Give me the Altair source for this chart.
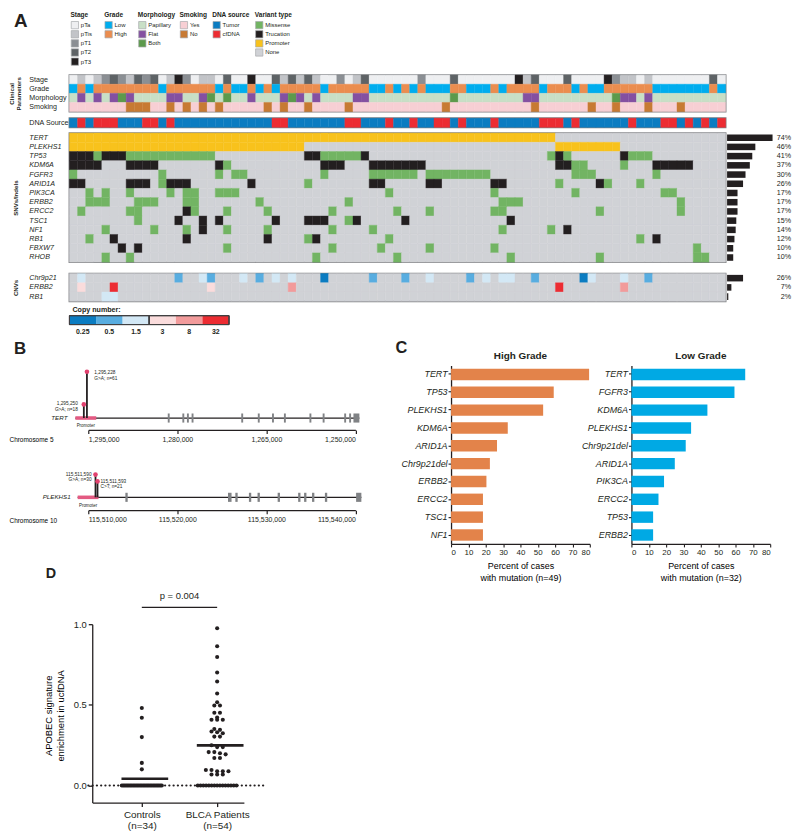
import altair as alt
import pandas as pd

FONT = "Liberation Sans"
INK = "#231f20"
EDGE = "#808285"
PINK = "#e2416f"
PROMO = "#e35a82"

# ======================= Panel A data =======================
n_patients = 81
patients = list(range(n_patients))

stage_levels = ["pTa", "pTis", "pT1", "pT2", "pT3"]
stage_colors = ["#eeeff1", "#c2c4c8", "#8b8f94", "#5e6366", "#231f20"]
stage = ["pTa", "pTis", "pTa", "pTis", "pT1", "pT2", "pT1", "pTis", "pT2", "pT1",
         "pT2", "pTa", "pTis", "pT3", "pT1", "pTa", "pTis", "pTis", "pTa", "pT2",
         "pTa", "pTa", "pT3", "pTa", "pTa", "pT2", "pTis", "pT2", "pTis", "pT2",
         "pTis", "pTa", "pTa", "pT1", "pTa", "pTis", "pT2", "pTa", "pTa", "pTa",
         "pTa", "pTa", "pTa", "pT1", "pTa", "pTa", "pTa", "pT2", "pTa", "pTa",
         "pTa", "pTa", "pTa", "pTa", "pTa", "pT3", "pTis", "pT2", "pTa", "pTa",
         "pTa", "pT2", "pTa", "pTa", "pTa", "pTa", "pT3", "pT1", "pTis", "pTis",
         "pTa", "pTis", "pTa", "pTa", "pTa", "pTa", "pTa", "pTa", "pTa", "pT2",
         "pTa"]

grade_levels = ["Low", "High"]
grade_colors = ["#00adee", "#eb8d4f"]
high_grade_cols = [1, 3, 4, 5, 6, 7, 8, 9, 10, 12, 13, 14, 15, 16, 17, 19, 22, 24, 26, 27,
                   28, 29, 30, 32, 33, 34, 35, 36, 39, 41, 43, 47, 48, 52, 54, 55, 56, 57,
                   59, 60, 61, 63, 66, 67, 68, 69, 70, 71, 79]

morph_levels = ["Papillary", "Flat", "Both"]
morph_colors = ["#c8dfc6", "#8450a1", "#5c9a4c"]
flat_cols = [1, 3, 5, 7, 12, 13, 16, 22, 26, 28, 30, 35, 36, 56, 57, 68, 69, 71]
both_cols = [6, 17, 19, 27, 47, 67]

smoking_levels = ["Yes", "No"]
smoking_colors = ["#f7cfd4", "#c77a33"]
non_smoker_cols = [7, 8, 9, 12, 14, 16, 18, 24, 26, 29, 34, 46, 57, 64, 67, 71, 75]

dna_levels = ["Tumor", "cfDNA"]
dna_colors = ["#0b7cc1", "#ec2c32"]
cfdna_cols = [1, 3, 4, 5, 9, 10, 12, 25, 26, 34, 35, 39, 42, 45, 46, 48, 52, 58, 59, 60,
              62, 69, 73, 74, 76, 78, 80]

variant_levels = ["Missense", "Trucation", "Promoter", "None"]
variant_colors = ["#72b463", "#231f20", "#f8c21c", "#d0d2d6"]

snv_genes = ["TERT", "PLEKHS1", "TP53", "KDM6A", "FGFR3", "ARID1A", "PIK3CA",
             "ERBB2", "ERCC2", "TSC1", "NF1", "RB1", "FBXW7", "RHOB"]
snv_pct = [74, 46, 41, 37, 30, 26, 17, 17, 17, 15, 14, 12, 10, 10]

promoter_cols = {
    "TERT": list(range(0, 60)),
    "PLEKHS1": list(range(0, 29)) + list(range(60, 68)),
}
truncation_cols = {
    "TP53": [0, 1, 2, 4, 5, 6, 29, 30, 36, 60, 68],
    "KDM6A": [0, 1, 2, 3, 7, 8, 9, 10, 18, 31, 32, 33, 37, 38, 39, 40, 41, 42, 43, 60, 61,
              72, 73, 74, 75, 76],
    "ARID1A": [0, 1, 7, 8, 9, 12, 13, 14, 22, 37, 38, 44, 45, 52, 53, 65],
    "ERCC2": [14],
    "TSC1": [13, 16, 18, 25, 29, 30, 31, 35, 41, 54],
    "NF1": [16, 61],
    "RB1": [5, 14, 24, 30, 72],
    "FBXW7": [6, 8],
}
missense_cols = {
    "TP53": [3, 7, 8, 9, 10, 11, 12, 13, 14, 15, 16, 17, 31, 32, 33, 34, 35, 59, 61, 69, 70, 71],
    "KDM6A": [19, 62, 63, 68],
    "FGFR3": [0, 11, 18, 20, 21, 31, 37, 38, 39, 40, 41, 42, 44, 45, 46, 47, 48, 49, 50, 51,
              62, 63, 64, 72],
    "ARID1A": [11, 29, 60, 66, 70],
    "PIK3CA": [2, 4, 7, 12, 14, 15, 18, 19, 20, 39, 52, 62, 73, 74],
    "ERBB2": [2, 3, 4, 8, 9, 10, 14, 15, 23, 34, 53, 54, 55, 75],
    "ERCC2": [1, 7, 8, 15, 19, 24, 32, 40, 44, 52, 53, 65, 75],
    "TSC1": [8, 34],
    "NF1": [4, 10, 14, 19, 24, 32, 37, 53, 59],
    "RB1": [2, 29, 39, 70],
    "FBXW7": [19, 32, 38, 44, 52, 77],
    "RHOB": [4, 7, 30, 40, 54, 65, 77, 78],
}

cnv_genes = ["Chr9p21", "ERBB2", "RB1"]
cnv_pct = [26, 7, 2]
cnv_calls = {
    "Chr9p21": {1: "1.5", 13: "0.5", 16: "1.5", 17: "0.5", 21: "1.5", 23: "0.5", 25: "1.5",
                27: "1.5", 31: "0.25", 37: "0.5", 41: "0.5", 44: "1.5", 49: "0.5", 51: "1.5",
                53: "1.5", 54: "1.5", 57: "0.5", 63: "0.25", 64: "1.5", 68: "1.5", 71: "0.5"},
    "ERBB2": {1: "3", 5: "32", 17: "3", 27: "8", 60: "32", 68: "8"},
    "RB1": {4: "1.5", 5: "1.5"},
}
cn_levels = ["0.25", "0.5", "1.5", "3", "8", "32"]
cn_colors = ["#0b7cc1", "#58ade0", "#d3e8f5", "#fadcdc", "#f29b9b", "#ec2c32"]
cn_groups = ["loss", "loss", "loss", "gain", "gain", "gain"]

# ======================= Panel B data =======================
tert_axis_ticks = [1295000, 1280000, 1265000, 1250000]
tert_promoter = [1297174, 1293662]
tert_span = [1297174, 1249330]
tert_exon_start = [1281610, 1279150, 1278380, 1277595, 1269230, 1266440, 1264045, 1262040,
                   1257740, 1255515, 1251885, 1251050, 1250330]
tert_exon_end = [1281290, 1278830, 1278060, 1277275, 1268910, 1266120, 1263725, 1261720,
                 1257420, 1255195, 1251565, 1250730, 1249330]
tert_mut_pos = [1295228, 1295250]
tert_mut_n = [61, 18]
tert_mut_change = ["G>A", "G>A"]

plek_axis_ticks = [115510000, 115520000, 115530000, 115540000]
plek_promoter = [115508809, 115511146]
plek_span = [115508809, 115540670]
plek_exon_start = [115514165, 115525690, 115526516, 115528041, 115529009, 115531268,
                   115533571, 115534239, 115535129, 115536575, 115540080]
plek_exon_end = [115514425, 115526090, 115526776, 115528301, 115529269, 115531528,
                 115533831, 115534499, 115535389, 115536835, 115540670]
plek_mut_pos = [115511590, 115511593]
plek_mut_n = [30, 21]
plek_mut_change = ["G>A", "C>T"]

# ======================= Panel C data =======================
high_genes = ["TERT", "TP53", "PLEKHS1", "KDM6A", "ARID1A", "Chr9p21del", "ERBB2",
              "ERCC2", "TSC1", "NF1"]
high_pct = [79.6, 59.2, 53.1, 32.7, 26.5, 22.4, 20.4, 18.4, 18.4, 18.4]
high_n = 49
low_genes = ["TERT", "FGFR3", "KDM6A", "PLEKHS1", "Chr9p21del", "ARID1A", "PIK3CA",
             "ERCC2", "TP53", "ERBB2"]
low_pct = [65.6, 59.4, 43.8, 34.4, 31.3, 25.0, 18.8, 15.6, 12.5, 12.5]
low_n = 32

# ======================= Panel D data =======================
d_groups = ["Controls", "BLCA Patients"]
d_group_n = [34, 54]
controls_vals = [0.48, 0.42, 0.30, 0.14, 0.10] + [0.0] * 29
blca_vals = [0.975, 0.863, 0.797, 0.701, 0.645, 0.570, 0.516, 0.496, 0.496, 0.451,
             0.451, 0.422, 0.408, 0.408, 0.408, 0.350, 0.345, 0.335, 0.330, 0.324,
             0.303, 0.303, 0.250, 0.238, 0.238, 0.207, 0.207, 0.200, 0.193, 0.170,
             0.170, 0.096, 0.096, 0.088, 0.088, 0.088, 0.068, 0.068, 0.068] + [0.0] * 15
p_value = "0.004"

# ======================= helpers =======================
def indep(c):
    return c.resolve_scale(color="independent", stroke="independent", fill="independent")


def letter_layer(ch, x, y, size):
    return alt.Chart(pd.DataFrame({"t": [ch]})).mark_text(
        align="left", baseline="alphabetic", fontSize=size, fontWeight="bold", color=INK
    ).encode(text="t:N", x=alt.value(x), y=alt.value(y))


def letter_chart(ch, x, y, size, width):
    return letter_layer(ch, x, y, size).properties(width=width, height=1)


def row_axis(height, title=None, italic=False, title_x=-61):
    args = dict(labelAlign="left", labelPadding=41, ticks=False, tickSize=0, domain=False,
                labelFontSize=7.2, labelColor=INK, labelBaseline="middle", labelLimit=0,
                labelFontStyle="italic" if italic else "normal")
    if title is not None:
        args.update(title=title, titleX=title_x, titleY=height / 2, titleAngle=270,
                    titleAlign="center", titleBaseline="top", titleFontSize=6.2,
                    titleFontWeight="bold", titleLineHeight=7, titleColor=INK)
    else:
        args["title"] = None
    return alt.Axis(**args)


band0 = alt.Scale(paddingInner=0, paddingOuter=0)
GRID_W = 662
ROW_H = 9.2

# ---------- legends ----------
def legend_block(title, items, colors, width):
    df = pd.DataFrame({"item": items, "swatch": colors})
    y = alt.Y("item:N", sort=items, axis=None, scale=band0)
    sw = alt.Chart(df).mark_square(size=54, stroke="#a7a9ac", strokeWidth=0.7, opacity=1).encode(
        x=alt.value(4.5), y=y, fill=alt.Fill("swatch:N", scale=None))
    tx = alt.Chart(df).mark_text(align="left", baseline="middle", fontSize=6, color=INK).encode(
        x=alt.value(10.5), y=y, text="item:N")
    return alt.layer(sw, tx).properties(
        width=width, height=ROW_H * len(items),
        title=alt.TitleParams(title, anchor="start", fontSize=6.6, fontWeight="bold",
                              offset=1.5, color=INK, frame="group"))


legend_row = indep(alt.hconcat(
    letter_chart("A", -56, 6.5, 19, 1),
    indep(alt.hconcat(
        legend_block("Stage", stage_levels, stage_colors, 33),
        legend_block("Grade", grade_levels, grade_colors, 33),
        legend_block("Morphology", morph_levels, morph_colors, 41),
        legend_block("Smoking", smoking_levels, smoking_colors, 32),
        legend_block("DNA source", dna_levels, dna_colors, 42),
        legend_block("Variant type", variant_levels, variant_colors, 50),
        spacing=0,
    )),
    spacing=-1,
))

# ---------- clinical ----------
grade = ["High" if c in high_grade_cols else "Low" for c in patients]
morph = ["Flat" if c in flat_cols else ("Both" if c in both_cols else "Papillary") for c in patients]
smoking = ["No" if c in non_smoker_cols else "Yes" for c in patients]
dna = ["cfDNA" if c in cfdna_cols else "Tumor" for c in patients]

clin_rows = ["Stage", "Grade", "Morphology", "Smoking"]
clin_df = pd.DataFrame({
    "col": patients * 4,
    "row": [r for r in clin_rows for _ in patients],
    "value": stage + grade + morph + smoking,
})
clin_scale = alt.Scale(domain=stage_levels + grade_levels + morph_levels + smoking_levels,
                       range=stage_colors + grade_colors + morph_colors + smoking_colors)
clin_h = ROW_H * 4
clinical = alt.Chart(clin_df).mark_rect(strokeWidth=0.4).encode(
    x=alt.X("col:O", axis=None, scale=band0),
    y=alt.Y("row:N", sort=clin_rows, scale=band0,
            axis=row_axis(clin_h, ["Clinical", "Parameters"], title_x=-61)),
    color=alt.Color("value:N", scale=clin_scale, legend=None),
    stroke=alt.Stroke("value:N", scale=clin_scale, legend=None),
).properties(width=GRID_W, height=clin_h,
             view=alt.ViewBackground(stroke=EDGE, strokeWidth=1.8))

dna_df = pd.DataFrame({"col": patients, "row": ["DNA Source"] * n_patients, "value": dna})
dna_scale = alt.Scale(domain=dna_levels, range=dna_colors)
dna_chart = alt.Chart(dna_df).mark_rect(strokeWidth=0.4).encode(
    x=alt.X("col:O", axis=None, scale=band0),
    y=alt.Y("row:N", scale=band0, axis=row_axis(ROW_H)),
    color=alt.Color("value:N", scale=dna_scale, legend=None),
    stroke=alt.Stroke("value:N", scale=dna_scale, legend=None),
).properties(width=GRID_W, height=ROW_H,
             view=alt.ViewBackground(stroke=EDGE, strokeWidth=1.8))

# ---------- SNVs ----------
snv_rows = []
for g in snv_genes:
    for c in patients:
        if c in promoter_cols.get(g, []):
            v = "Promoter"
        elif c in truncation_cols.get(g, []):
            v = "Trucation"
        elif c in missense_cols.get(g, []):
            v = "Missense"
        else:
            v = "None"
        snv_rows.append({"col": c, "gene": g, "value": v})
snv_df = pd.DataFrame(snv_rows)
snv_h = 9.3 * len(snv_genes)
var_scale = alt.Scale(domain=variant_levels, range=variant_colors)
snv_grid = alt.Chart(snv_df).mark_rect(strokeWidth=0.4).encode(
    x=alt.X("col:O", axis=None, scale=band0),
    y=alt.Y("gene:N", sort=snv_genes, scale=band0,
            axis=row_axis(snv_h, "SNVs/Indels", italic=True, title_x=-57)),
    color=alt.Color("value:N", scale=var_scale, legend=None),
    stroke=alt.Stroke("value:N", scale=var_scale, legend=None),
)
snv_pct_df = pd.DataFrame({"gene": snv_genes, "pct": snv_pct, "label": [f"{p}%" for p in snv_pct]})
pct_scale = alt.Scale(domain=[0, 100], range=[663.5, 725.5])
snv_bars = alt.Chart(snv_pct_df).mark_bar(size=6.6, color=INK).encode(
    x=alt.X("pct:Q", scale=pct_scale, axis=None),
    y=alt.Y("gene:N", sort=snv_genes),
)
snv_text = alt.Chart(snv_pct_df).mark_text(align="right", baseline="middle", fontSize=7.2, color=INK).encode(
    x=alt.value(728), y=alt.Y("gene:N", sort=snv_genes), text="label:N")
snv_chart = alt.layer(snv_grid, snv_bars, snv_text).resolve_scale(x="independent").properties(
    width=GRID_W, height=snv_h, view=alt.ViewBackground(stroke=EDGE, strokeWidth=1.8))

# ---------- CNVs ----------
cnv_rows = []
for g in cnv_genes:
    for c in patients:
        cnv_rows.append({"col": c, "gene": g, "value": cnv_calls[g].get(c, "none")})
cnv_df = pd.DataFrame(cnv_rows)
cnv_h = 9.33 * len(cnv_genes)
cn_scale = alt.Scale(domain=["none"] + cn_levels, range=["#d0d2d6"] + cn_colors)
cnv_grid = alt.Chart(cnv_df).mark_rect(strokeWidth=0.4).encode(
    x=alt.X("col:O", axis=None, scale=band0),
    y=alt.Y("gene:N", sort=cnv_genes, scale=band0,
            axis=row_axis(cnv_h, "CNVs", italic=True, title_x=-57)),
    color=alt.Color("value:N", scale=cn_scale, legend=None),
    stroke=alt.Stroke("value:N", scale=cn_scale, legend=None),
)
cnv_pct_df = pd.DataFrame({"gene": cnv_genes, "pct": cnv_pct, "label": [f"{p}%" for p in cnv_pct]})
cnv_bars = alt.Chart(cnv_pct_df).mark_bar(size=6.6, color=INK).encode(
    x=alt.X("pct:Q", scale=pct_scale, axis=None), y=alt.Y("gene:N", sort=cnv_genes))
cnv_text = alt.Chart(cnv_pct_df).mark_text(align="right", baseline="middle", fontSize=7.2, color=INK).encode(
    x=alt.value(728), y=alt.Y("gene:N", sort=cnv_genes), text="label:N")
cnv_chart = alt.layer(cnv_grid, cnv_bars, cnv_text).resolve_scale(x="independent").properties(
    width=GRID_W, height=cnv_h, view=alt.ViewBackground(stroke=EDGE, strokeWidth=1.8))

# ---------- copy-number legend ----------
cn_leg_df = pd.DataFrame({"level": cn_levels, "group": cn_groups})
cn_boxes = alt.Chart(cn_leg_df).mark_rect().encode(
    x=alt.X("level:N", sort=cn_levels, scale=band0,
            axis=alt.Axis(title=None, domain=False, ticks=False, labelAngle=0, labelFontSize=7,
                          labelFontWeight="bold", labelPadding=3, labelColor=INK)),
    color=alt.Color("level:N", scale=alt.Scale(domain=cn_levels, range=cn_colors), legend=None),
)
cn_frames = alt.Chart(cn_leg_df).mark_rect(fillOpacity=0, stroke="#414042", strokeWidth=1).encode(
    x=alt.X("group:N", sort=["loss", "gain"], scale=band0, axis=None))
cn_legend = alt.layer(cn_boxes, cn_frames).resolve_scale(x="independent").properties(
    width=161, height=9,
    title=alt.TitleParams("Copy number:", anchor="start", fontSize=7.2, fontWeight="bold",
                          offset=2, dx=3, color=INK, frame="group"))

panel_a = indep(alt.vconcat(
    legend_row,
    indep(alt.vconcat(
        indep(alt.vconcat(
            indep(alt.vconcat(clinical, dna_chart, spacing=3.5)),
            snv_chart, spacing=2.5)),
        indep(alt.vconcat(cnv_chart, cn_legend, spacing=2.5)),
        spacing=8.2,
    )),
    spacing=6,
))

# ======================= Panel B =======================
def gene_chart(gene, chrom, ticks, domain, reverse, promoter, span, ex_s, ex_e,
               mut_pos, mut_n, mut_change, mut_styles, height, ymax, axis_offset,
               name_dx, promo_dy, panel_letter=None):
    xs = alt.Scale(domain=domain, reverse=reverse, range=[19, 288.5], zero=False, nice=False)
    ys = alt.Scale(domain=[0, ymax], zero=False, nice=False)
    xaxis = alt.Axis(values=ticks, labelExpr="format(datum.value, ',')", title=chrom,
                     titleX=-61, titleY=10, titleAlign="left", titleBaseline="middle",
                     titleFontSize=6.5, titleFontWeight="normal", offset=axis_offset,
                     tickSize=3.5, labelFontSize=7, labelPadding=2, domainColor=INK,
                     tickColor=INK, domainWidth=1.3, tickWidth=1.2, grid=False, labelColor=INK)

    def X(field):
        return alt.X(field, scale=xs, axis=xaxis)

    y0 = alt.Y(datum=0, scale=ys, axis=None)
    line = alt.Chart(pd.DataFrame({"start": [span[0]], "end": [span[1]]})).mark_rule(
        strokeWidth=1.3, color=INK).encode(x=X("start:Q"), x2="end:Q", y=y0)
    promo_df = pd.DataFrame({"start": [promoter[0]], "end": [promoter[1]], "label": ["Promoter"]})
    promo = alt.Chart(promo_df).mark_rule(strokeWidth=3.6, color=PROMO).encode(
        x=X("start:Q"), x2="end:Q", y=y0)
    promo_txt = alt.Chart(promo_df).transform_calculate(mid="(datum.start + datum.end) / 2").mark_text(
        fontSize=4.5, baseline="middle", dy=promo_dy, color=INK).encode(
        x=X("mid:Q"), y=y0, text="label:N")
    exons = alt.Chart(pd.DataFrame({"start": ex_s, "end": ex_e})).mark_rect(color=EDGE).encode(
        x=X("start:Q"), x2="end:Q",
        y=alt.Y(datum=-6, scale=ys, axis=None), y2=alt.Y2(datum=6))
    name = alt.Chart(pd.DataFrame({"start": [span[0]], "gene": [gene]})).mark_text(
        align="right", baseline="middle", fontSize=6.3, fontStyle="italic", dx=name_dx, color=INK).encode(
        x=X("start:Q"), y=y0, text="gene:N")
    mut_df = pd.DataFrame({
        "pos": mut_pos, "n": mut_n,
        "label": [f"{p:,}\n{ch}; n={n}" for p, ch, n in zip(mut_pos, mut_change, mut_n)],
    })
    layers = [line, promo, exons, promo_txt, name]
    for p, st in zip(mut_pos, mut_styles):
        sub = alt.Chart(mut_df).transform_filter(alt.datum.pos == p)
        layers.append(sub.mark_rule(strokeWidth=1.8, color=INK, xOffset=st["off"]).encode(
            x=X("pos:Q"), y=alt.Y("n:Q", scale=ys, axis=None), y2=alt.Y2(datum=0)))
        layers.append(sub.mark_circle(size=22, color=PINK, opacity=1, xOffset=st["off"]).encode(
            x=X("pos:Q"), y=alt.Y("n:Q", scale=ys, axis=None)))
        layers.append(sub.mark_text(fontSize=4.8, lineBreak="\n", align=st["align"], baseline="middle",
                                    dx=st["dx"], dy=st["dy"], color=INK, lineHeight=5.6).encode(
            x=X("pos:Q"), y=alt.Y("n:Q", scale=ys, axis=None), text="label:N"))
    if panel_letter is not None:
        layers.append(panel_letter)
    return alt.layer(*layers).properties(width=295, height=height)


tert_chart = gene_chart(
    "TERT", "Chromosome 5", tert_axis_ticks, [1250000, 1295000], True, tert_promoter, tert_span,
    tert_exon_start, tert_exon_end, tert_mut_pos, tert_mut_n, tert_mut_change,
    [{"off": 0, "align": "left", "dx": 7.5, "dy": 1.5},
     {"off": -3, "align": "right", "dx": -9, "dy": 0}],
    53, 69.3, 12, -8, 8, panel_letter=letter_layer("B", -56, -12, 17))
plek_chart = gene_chart(
    "PLEKHS1", "Chromosome 10", plek_axis_ticks, [115510000, 115540000], False, plek_promoter,
    plek_span, plek_exon_start, plek_exon_end, plek_mut_pos, plek_mut_n, plek_mut_change,
    [{"off": -7, "align": "right", "dx": -11, "dy": 0},
     {"off": -5, "align": "left", "dx": -2, "dy": 0.5}],
    30, 39.2, 13, -7, 9)

# ======================= Panel C =======================
def grade_chart(genes, pct, color, title, n):
    df = pd.DataFrame({"gene": genes, "pct": pct})
    return alt.Chart(df).mark_bar(color=color).encode(
        x=alt.X("pct:Q", scale=alt.Scale(domain=[0, 80], nice=False),
                axis=alt.Axis(values=list(range(0, 81, 10)), tickSize=3, labelFontSize=8,
                              labelPadding=2, title=["Percent of cases", f"with mutation (n={n})"],
                              titleFontSize=9, titleFontWeight="normal", titlePadding=5,
                              titleLineHeight=11.5, domainColor=INK, tickColor=INK,
                              domainWidth=1.2, tickWidth=1.1, labelColor=INK, grid=False)),
        y=alt.Y("gene:N", sort=genes, scale=alt.Scale(paddingInner=0.36, paddingOuter=0.18),
                axis=alt.Axis(title=None, labelFontStyle="italic", labelFontSize=9, tickSize=3,
                              labelPadding=1, domainColor=INK, tickColor=INK, domainWidth=1.3,
                              tickWidth=1.1, labelColor=INK)),
    ).properties(
        width=140, height=180,
        title=alt.TitleParams(title, fontSize=10, fontWeight="bold", offset=5, anchor="middle",
                              color=INK, frame="group"))


high_chart = grade_chart(high_genes, high_pct, "#e3834a", "High Grade", high_n)
low_chart = grade_chart(low_genes, low_pct, "#00a9e4", "Low Grade", low_n)
panel_c = indep(alt.hconcat(
    letter_chart("C", 0, -13, 16.5, 12),
    indep(alt.hconcat(high_chart, low_chart, spacing=-10)),
    spacing=-7,
))

# ======================= Panel D =======================
d_df = pd.DataFrame({
    "group": [d_groups[0]] * len(controls_vals) + [d_groups[1]] * len(blca_vals),
    "value": controls_vals + blca_vals,
})
grp_expr = f"datum.group === '{d_groups[0]}' ? 1 : 2"
dxs = alt.Scale(domain=[0.342, 2.355], range=[23, 176], zero=False, nice=False)
dys = alt.Scale(domain=[-0.106, 1.0], zero=False, nice=False)
label_expr = (f"datum.value == 1 ? ['{d_groups[0]}', '(n={d_group_n[0]})'] : "
              f"['{d_groups[1]}', '(n={d_group_n[1]})']")
d_xaxis = alt.Axis(values=[1, 2], labelExpr=label_expr, tickSize=4, labelFontSize=10,
                   labelPadding=3, labelLineHeight=11.5, title=None, domainColor=INK,
                   tickColor=INK, domainWidth=1.3, tickWidth=1.3, labelColor=INK, grid=False)
d_yaxis = alt.Axis(values=[0, 0.5, 1.0], format=".1f", offset=-23, tickSize=4, labelFontSize=9.5,
                   labelPadding=2, domainColor=INK, tickColor=INK, domainWidth=1.3, tickWidth=1.3,
                   labelColor=INK, grid=False,
                   title=["APOBEC signature", "enrichment in ucfDNA"], titleFontSize=9.5,
                   titleFontWeight="normal", titleAngle=270, titleX=-49, titleY=92,
                   titleAlign="center", titleBaseline="top", titleLineHeight=12)

points = alt.Chart(d_df).transform_calculate(
    g=grp_expr, vb="round(datum.value / 0.025)"
).transform_window(
    idx="row_number()", groupby=["group", "vb"]
).transform_joinaggregate(
    cnt="count()", groupby=["group", "vb"]
).transform_calculate(
    xp="datum.g + (datum.idx - (datum.cnt + 1) / 2) * min(0.075, 0.55 / datum.cnt)"
).mark_circle(size=17, color=INK, opacity=1).encode(
    x=alt.X("xp:Q", scale=dxs, axis=d_xaxis),
    y=alt.Y("value:Q", scale=dys, axis=d_yaxis),
)
means = alt.Chart(d_df).transform_aggregate(
    m="mean(value)", groupby=["group"]
).transform_calculate(
    g=grp_expr, x1="datum.g - 0.27", x2="datum.g + 0.35"
).mark_rule(strokeWidth=2.6, color=INK).encode(
    x=alt.X("x1:Q", scale=dxs, axis=d_xaxis), x2="x2:Q", y=alt.Y("m:Q", scale=dys, axis=d_yaxis))
zero_line = alt.Chart(pd.DataFrame({"v": [0.0]})).mark_rule(
    strokeDash=[0.1, 4.2], strokeCap="round", strokeWidth=2.2, color=INK).encode(
    y=alt.Y("v:Q", scale=dys, axis=d_yaxis), x=alt.X(datum=0.29, scale=dxs, axis=d_xaxis),
    x2=alt.X2(datum=2.66))
ptest = pd.DataFrame({"a": [1], "b": [2], "h": [1.104], "label": [f"p = {p_value}"]})
bracket = alt.Chart(ptest).mark_rule(strokeWidth=1.2, color=INK).encode(
    x=alt.X("a:Q", scale=dxs, axis=d_xaxis), x2="b:Q", y=alt.Y("h:Q", scale=dys, axis=d_yaxis))
ptext = alt.Chart(ptest).transform_calculate(mid="(datum.a + datum.b) / 2").mark_text(
    fontSize=9.5, baseline="alphabetic", dy=-8, color=INK).encode(
    x=alt.X("mid:Q", scale=dxs, axis=d_xaxis), y=alt.Y("h:Q", scale=dys, axis=d_yaxis),
    text="label:N")
d_chart = alt.layer(zero_line, bracket, ptext, means, points,
                    letter_layer("D", -24, -47, 14.5)).properties(width=200, height=180)

left_col = indep(alt.vconcat(indep(alt.vconcat(tert_chart, plek_chart, spacing=24)), d_chart,
                             spacing=42))
row2 = indep(alt.hconcat(left_col, panel_c, spacing=33))

chart = indep(alt.vconcat(panel_a, row2, spacing=5)).properties(padding=0).configure(
    font=FONT
).configure_view(stroke=None).configure_axis(
    labelFont=FONT, titleFont=FONT, grid=False
).configure_text(font=FONT).configure_title(font=FONT)

chart.save("out.html", embed_options={"renderer": "svg", "actions": False})
